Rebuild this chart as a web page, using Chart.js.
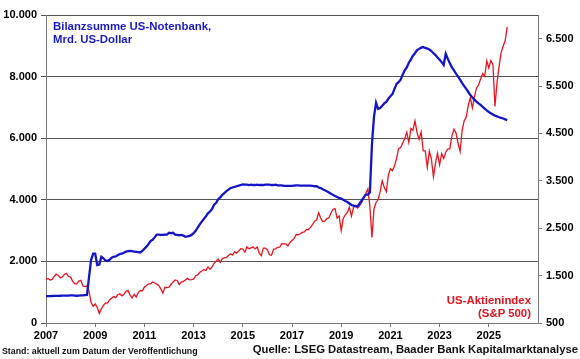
<!DOCTYPE html>
<html lang="de">
<head>
<meta charset="UTF-8">
<title>Bilanzsumme US-Notenbank und S&amp;P 500</title>
<script src="https://cdn.jsdelivr.net/npm/chart.js@4"></script>
<style>
    body { margin: 0; background: #ffffff; font-family: "Liberation Sans", Arial, sans-serif; }
    .wrap { position: relative; width: 580px; height: 359px; }
    canvas { position: absolute; left: 0; top: 0; }
    .note { position: absolute; font-weight: bold; white-space: nowrap; }
    .fed { left: 53px; top: 20px; font-size: 11.4px; line-height: 13px; color: #1a1ac4; }
    .spx { right: 49px; top: 294px; font-size: 11.4px; line-height: 13px; color: #e0141e; text-align: right; }
    .stand { left: 2px; top: 346px; font-size: 8.8px; color: #111; }
    .quelle { right: 2px; top: 343px; font-size: 11.3px; color: #111; }
</style>
</head>
<body>
<div class="wrap">
    <canvas id="chart" width="580" height="359"></canvas>
    <div class="note fed">Bilanzsumme US-Notenbank,<br>Mrd. US-Dollar</div>
    <div class="note spx">US-Aktienindex<br>(S&amp;P 500)</div>
    <div class="note stand">Stand: aktuell zum Datum der Veröffentlichung</div>
    <div class="note quelle">Quelle: LSEG Datastream, Baader Bank Kapitalmarktanalyse</div>
</div>

<script>
// Monatswerte ab Januar 2007 (Monatsanfang), letzter Wert Oktober 2025
const startYear = 2007;

// Bilanzsumme Fed, Mrd. US-Dollar
const fedBalance = [
    870, 872, 874, 876, 878, 880, 882, 884, 886, 888, 890, 892,
    894, 895, 890, 885, 890, 895, 900, 905, 910, 1500, 2050, 2250,
    2250, 1880, 1900, 2150, 2100, 2030, 2010, 2050, 2120, 2150, 2160, 2200,
    2240, 2250, 2280, 2320, 2330, 2340, 2330, 2320, 2310, 2300, 2290, 2340,
    2410, 2480, 2560, 2660, 2700, 2780, 2870, 2870, 2860, 2860, 2870, 2870,
    2930, 2920, 2930, 2870, 2860, 2850, 2860, 2840, 2800, 2810, 2830, 2860,
    2920, 2990, 3100, 3200, 3290, 3380, 3460, 3560, 3620, 3700, 3840, 3900,
    4020, 4080, 4160, 4220, 4280, 4330, 4380, 4400, 4420, 4440, 4460, 4480,
    4500, 4490, 4490, 4480, 4490, 4480, 4480, 4490, 4480, 4480, 4480, 4490,
    4490, 4490, 4480, 4480, 4490, 4470, 4470, 4470, 4450, 4450, 4450, 4450,
    4450, 4460, 4470, 4470, 4460, 4460, 4460, 4460, 4460, 4460, 4450, 4440,
    4440, 4400, 4380, 4340, 4310, 4280, 4240, 4200, 4160, 4120, 4090, 4060,
    4040, 4000, 3960, 3930, 3880, 3830, 3810, 3790, 3790, 3880, 3980, 4080,
    4170, 4170, 4240, 5800, 6700, 7150, 6950, 6980, 7050, 7130, 7180, 7280,
    7360, 7430, 7600, 7760, 7820, 7900, 8070, 8200, 8300, 8450, 8560, 8680,
    8760, 8860, 8900, 8940, 8960, 8930, 8910, 8880, 8830, 8760, 8700, 8620,
    8550, 8470, 8380, 8740, 8580, 8430, 8300, 8200, 8100, 8000, 7900, 7790,
    7690, 7600, 7500, 7400, 7320, 7250, 7190, 7130, 7080, 7020, 6960, 6900,
    6850, 6810, 6770, 6730, 6710, 6680, 6660, 6640, 6610, 6590
];

// S&P 500, Indexpunkte
const spx500 = [
    1418, 1438, 1407, 1421, 1482, 1531, 1503, 1455, 1474, 1527, 1549, 1481,
    1468, 1378, 1331, 1323, 1386, 1400, 1280, 1267, 1283, 1166, 930, 850,
    903, 826, 700, 798, 873, 919, 919, 987, 1021, 1057, 1036, 1096,
    1115, 1074, 1104, 1169, 1187, 1089, 1031, 1102, 1049, 1141, 1183, 1181,
    1258, 1286, 1327, 1326, 1364, 1345, 1321, 1292, 1219, 1131, 1253, 1247,
    1258, 1312, 1366, 1408, 1398, 1310, 1362, 1379, 1407, 1441, 1412, 1416,
    1426, 1498, 1515, 1569, 1598, 1631, 1606, 1686, 1633, 1682, 1757, 1806,
    1848, 1783, 1859, 1872, 1884, 1924, 1960, 1931, 2003, 1972, 2018, 2068,
    2059, 1995, 2105, 2068, 2086, 2107, 2063, 2104, 1972, 1920, 2079, 2080,
    2044, 1940, 1932, 2060, 2065, 2097, 2099, 2174, 2171, 2168, 2126, 2199,
    2239, 2279, 2364, 2363, 2384, 2412, 2423, 2470, 2472, 2519, 2575, 2648,
    2674, 2824, 2714, 2641, 2648, 2705, 2718, 2816, 2902, 2914, 2712, 2760,
    2450, 2704, 2784, 2834, 2946, 2752, 2942, 2980, 2926, 2977, 3038, 3141,
    3231, 3330, 2954, 2305, 2912, 3044, 3100, 3271, 3500, 3363, 3270, 3622,
    3756, 3714, 3811, 3973, 4181, 4204, 4298, 4395, 4523, 4308, 4605, 4567,
    4766, 4516, 4374, 4530, 4132, 4132, 3785, 4130, 3955, 3586, 3872, 4080,
    3840, 4077, 3970, 4109, 4169, 4180, 4450, 4589, 4508, 4288, 4120, 4568,
    4770, 4846, 5096, 5254, 5036, 5278, 5460, 5522, 5648, 5762, 5705, 6032,
    5882, 6041, 5955, 5070, 5569, 5912, 6205, 6339, 6460, 6750
];

const yearLabels = [2007, 2009, 2011, 2013, 2015, 2017, 2019, 2021, 2023, 2025];
const leftTickValues = [0, 2000, 4000, 6000, 8000, 10000];
const rightTickValues = [500, 1500, 2500, 3500, 4500, 5500, 6500];

const toPoints = arr => arr.map((v, i) => ({ x: startYear + i / 12, y: v }));
const deNum = v => Math.round(v).toString().replace(/\B(?=(\d{3})+(?!\d))/g, '.');
const fixTicks = values => s => { s.ticks = values.map(v => ({ value: v })); };

const font = { family: '"Liberation Sans", Arial, sans-serif', size: 11, weight: 'bold' };

new Chart(document.getElementById('chart'), {
    type: 'line',
    data: {
        datasets: [
            {
                label: 'Bilanzsumme US-Notenbank',
                data: toPoints(fedBalance),
                borderColor: '#1515c8',
                borderWidth: 2.3,
                pointRadius: 0,
                tension: 0,
                yAxisID: 'y'
            },
            {
                label: 'S&P 500',
                data: toPoints(spx500),
                borderColor: '#e8141e',
                borderWidth: 1.3,
                pointRadius: 0,
                tension: 0,
                yAxisID: 'y2'
            }
        ]
    },
    options: {
        responsive: false,
        animation: false,
        layout: { padding: { top: 15, left: 0, right: 0, bottom: 0 } },
        plugins: { legend: { display: false }, tooltip: { enabled: false } },
        scales: {
            x: {
                type: 'linear',
                min: 2007,
                max: 2027,
                afterFit: s => { s.height = 36; },
                afterBuildTicks: fixTicks(yearLabels),
                ticks: {
                    maxRotation: 0,
                    autoSkip: false,
                    padding: 2,
                    color: '#000',
                    font: font,
                    callback: v => String(v)
                },
                grid: { drawOnChartArea: false, tickLength: 4, color: '#777' },
                border: { color: '#777', width: 1 }
            },
            y: {
                position: 'left',
                min: 0,
                max: 10000,
                afterFit: s => { s.width = 46; },
                afterBuildTicks: fixTicks(leftTickValues),
                ticks: { padding: 4, color: '#000', font: font, callback: v => deNum(v) },
                grid: { color: '#555', lineWidth: 1, tickLength: 5 },
                border: { color: '#777', width: 1 }
            },
            y2: {
                position: 'right',
                min: 500,
                max: 7000,
                afterFit: s => { s.width = 42; },
                afterBuildTicks: fixTicks(rightTickValues),
                ticks: { padding: 4, color: '#000', font: font, callback: v => deNum(v) },
                grid: { drawOnChartArea: false, tickLength: 4, color: '#777' },
                border: { color: '#777', width: 1 }
            }
        }
    }
});
</script>
</body>
</html>
